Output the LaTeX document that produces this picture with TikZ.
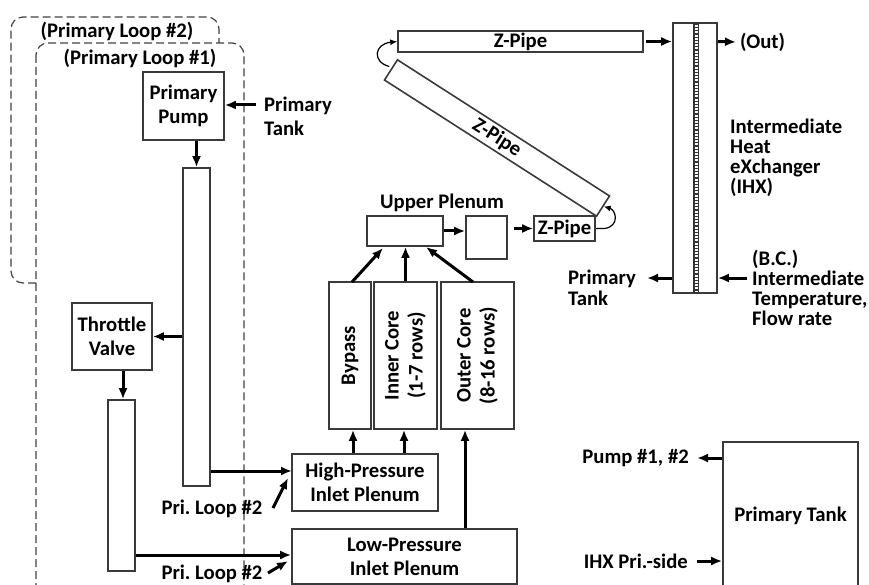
\documentclass[tikz,border=0pt]{standalone}
\usepackage{fontspec}
\setmainfont{Carlito}
\usetikzlibrary{arrows.meta,calc}
\definecolor{boxgray}{HTML}{3A3A3A}
\definecolor{dashgray}{HTML}{404040}
\tikzset{
  box/.style={draw=boxgray, line width=1.6pt, inner sep=0pt, align=center, font=\bfseries},
  lbl/.style={inner sep=0pt, font=\bfseries},
  arr/.style={line width=3pt, -{Latex[length=11pt,width=9pt]}},
  carr/.style={line width=1.2pt, -{Latex[length=7pt,width=6pt]}},
  loop/.style={draw=dashgray, line width=1.2pt, dash pattern=on 8pt off 4pt, rounded corners=12pt},
}
\begin{document}
\begin{tikzpicture}[x=1pt,y=-1pt, every node/.append style={font=\bfseries}]
\fontsize{20.7pt}{24pt}\selectfont
\useasboundingbox (0,0) rectangle (869,585);
\begin{scope}
\clip (0,0) rectangle (869,585);
% dashed loops
\draw[loop] (36,283) -- (11,283) -- (11,17) -- (219,17) -- (219,43);
\draw[loop] (36,43) rectangle (244,597);
% boxes
\node[box, minimum width=81pt, minimum height=68pt] (pp) at (183.5,106) {Primary\\Pump};
\node[box, minimum width=27pt, minimum height=318pt] (p1) at (196.5,327) {};
\node[box, minimum width=80pt, minimum height=67pt] (tv) at (112,336.5) {Throttle\\Valve};
\node[box, minimum width=27pt, minimum height=171pt] (p2) at (121.5,485.5) {};
\node[box, minimum width=146pt, minimum height=57pt] (hp) at (365,482.5) {High-Pressure\\Inlet Plenum};
\node[box, minimum width=225pt, minimum height=55pt] (lp) at (404.5,556.5) {Low-Pressure\\Inlet Plenum};
\node[box, minimum width=42pt, minimum height=147pt] (bp) at (350,355.5) {};
\node[box, minimum width=63pt, minimum height=147pt] (ic) at (405.5,355.5) {};
\node[box, minimum width=73pt, minimum height=147pt] (oc) at (477.5,355.5) {};
\node[lbl, rotate=90] at (bp) {Bypass};
\node[lbl, rotate=90, align=center] at (ic) {Inner Core\\(1-7 rows)};
\node[lbl, rotate=90, align=center] at (oc) {Outer Core\\(8-16 rows)};
\node[box, minimum width=76pt, minimum height=30pt] (up) at (405,231) {};
\node[lbl] (upl) at (442,203) {Upper Plenum};
\node[box, minimum width=41pt, minimum height=43pt] (sb) at (486.5,237.5) {};
\node[box, minimum width=61pt, minimum height=25pt] (zs) at (564.5,228.5) {Z-Pipe};
\node[box, minimum width=245pt, minimum height=21pt] (zt) at (520.5,41.5) {Z-Pipe};
\node[box, minimum width=252pt, minimum height=24pt, rotate=-32.7] (zd) at (497,138) {Z-Pipe};
\node[box, minimum width=44pt, minimum height=270pt] (ihx) at (695,158) {};
\fill[black!80] (693,23.5) rectangle (699,292.5);
\draw[white, line width=3pt, dash pattern=on 2pt off 1.2pt] (696,25) -- (696,291);
\node[box, minimum width=135pt, minimum height=148pt] (tank) at (790.5,516) {Primary Tank};
% labels
\node[lbl] (l2) at (117,31) {(Primary Loop \#2)};
\node[lbl] (l1) at (140,58) {(Primary Loop \#1)};
\node[lbl, anchor=west, align=left] (ptk) at (264,116) {Primary\\Tank};
\node[lbl] (pl1) at (212,509) {Pri.\ Loop \#2};
\node[lbl] (pl2) at (212,574) {Pri.\ Loop \#2};
\node[lbl, anchor=west] (out) at (740,42) {(Out)};
\node[lbl, anchor=west, align=left, font=\bfseries\fontsize{20.7pt}{20pt}\selectfont] (ihxl) at (730,158) {Intermediate\\Heat\\eXchanger\\(IHX)};
\node[lbl, anchor=west, align=left, font=\bfseries\fontsize{20.7pt}{21pt}\selectfont] (ptk2) at (568,287.5) {Primary\\Tank};
\node[lbl, anchor=west, align=left, font=\bfseries\fontsize{20.7pt}{20pt}\selectfont] (bc) at (752,288) {(B.C.)\\Intermediate\\Temperature,\\Flow rate};
\node[lbl, anchor=east] (pmp) at (689,458) {Pump \#1, \#2};
\node[lbl, anchor=east] (ihxp) at (688,561) {IHX Pri.-side};
% coordinates
\coordinate (ptkA) at (256,105);
\coordinate (hpin) at (292,471);
\coordinate (l1a) at (273,508);
\coordinate (l1b) at (288,478);
\coordinate (l2a) at (268,573);
\coordinate (l2b) at (288,561);
\coordinate (bpA) at (352,282);
\coordinate (bpB) at (383,248);
\coordinate (ocA) at (473,282);
\coordinate (ocB) at (426,247);
\coordinate (outA) at (736,42);
\coordinate (ptB) at (647,278);
\coordinate (bcA) at (747,278);
\coordinate (pmpB) at (697,458);
\coordinate (ihxA) at (697,561);
% arrows
\draw[arr] (ptkA) -- (ptkA -| pp.east);
\draw[arr] (p1.north |- pp.south) -- (p1.north);
\draw[arr] (p1.west |- tv.east) -- (tv.east);
\draw[arr] ([xshift=1.5pt]p2.north |- tv.south) -- ([xshift=1.5pt]p2.north);
\draw[arr] (p1.east |- hpin) -- (hpin);
\draw[arr] (p2.east |- 0,555) -- (lp.west |- 0,555);
\draw[arr] (l1a) -- (l1b);
\draw[arr] (l2a) -- (l2b);
\draw[arr] ([xshift=3pt]bp.south |- hp.north) -- ([xshift=3pt]bp.south);
\draw[arr] ([xshift=-1.5pt]ic.south |- hp.north) -- ([xshift=-1.5pt]ic.south);
\draw[arr] ([xshift=-12.5pt]oc.south |- lp.north) -- ([xshift=-12.5pt]oc.south);
\draw[arr] (bpA) -- (bpB);
\draw[arr] (ic.north) -- (ic.north |- up.south);
\draw[arr] (ocA) -- (ocB);
\draw[arr] (up.east) -- (sb.west |- up.east);
\draw[arr] ([xshift=6pt]sb.east |- zs.west) -- (zs.west);
\draw[arr] ([xshift=2pt]zt.east) -- (ihx.west |- zt.east);
\draw[arr] (ihx.east |- zt.east) -- (outA);
\draw[arr] (ihx.west |- ptB) -- (ptB);
\draw[arr] (bcA) -- (ihx.east |- bcA);
\draw[arr] (tank.west |- pmpB) -- (pmpB);
\draw[arr] (ihxA) -- (tank.west |- ihxA);
% curved arrows
\draw[carr] ([xshift=-1pt,yshift=3pt]zd.west) .. controls (372,62) and (374,44) .. (zt.west);
\draw[carr] (zs.east) -- ++(9,0) .. controls (620,226) and (616,210) .. (zd.east);
\end{scope}
\end{tikzpicture}
\end{document}
